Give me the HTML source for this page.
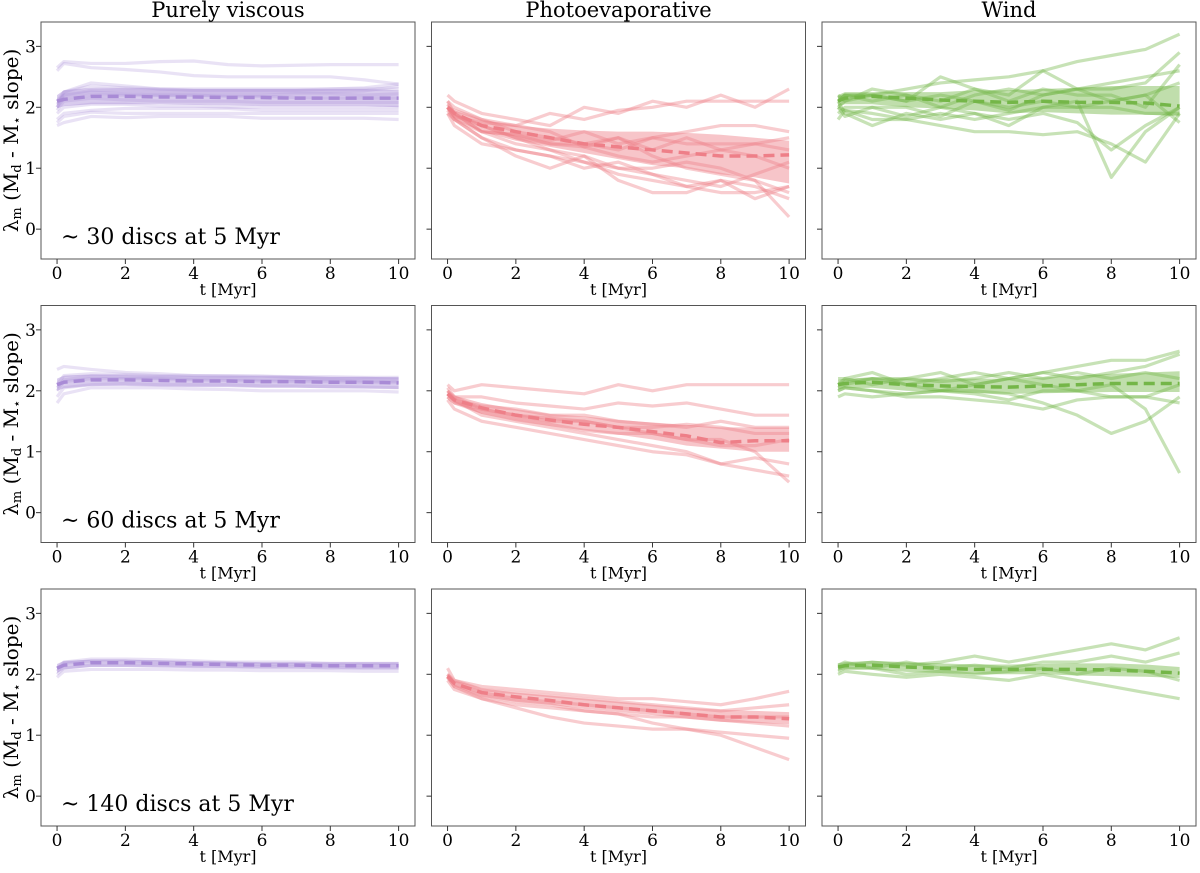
<!DOCTYPE html>
<html><head><meta charset="utf-8"><style>
body{margin:0;background:#fff}
svg text{font-family:"DejaVu Serif","Liberation Serif",serif;fill:#000}
</style></head><body>
<svg id="fig" width="1200" height="868" xmlns="http://www.w3.org/2000/svg"></svg>
<script>
const times=[0,0.2,1,2,3,4,5,6,7,8,9,10];
const xTicks=[0,2,4,6,8,10];
const yTicks=[0,1,2,3];
const colTitles=["Purely viscous","Photoevaporative","Wind"];
const rowNotes=["~ 30 discs at 5 Myr","~ 60 discs at 5 Myr","~ 140 discs at 5 Myr"];
const colors=["#a98bd6","#ee7f88","#74b648"];
// viscous
const v1=[[2.65,2.75,2.72,2.72,2.75,2.76,2.7,2.68,2.69,2.7,2.7,2.7],[2.6,2.72,2.65,2.62,2.58,2.52,2.5,2.5,2.5,2.5,2.45,2.38],
[2.0,2.25,2.35,2.32,2.3,2.3,2.3,2.3,2.3,2.3,2.3,2.3],[2.1,2.2,2.28,2.27,2.25,2.25,2.25,2.25,2.25,2.25,2.27,2.34],
[2.0,2.15,2.2,2.2,2.2,2.2,2.18,2.18,2.16,2.15,2.15,2.15],[1.95,2.1,2.15,2.12,2.1,2.1,2.1,2.08,2.08,2.08,2.08,2.08],
[1.9,2.0,2.05,2.05,2.02,2.02,2.0,2.0,2.0,2.0,2.0,2.0],[1.8,1.9,1.95,1.98,1.98,1.98,1.98,1.95,1.95,1.95,1.95,1.95],
[1.75,1.85,1.92,1.9,1.9,1.9,1.9,1.9,1.9,1.9,1.9,1.9],[1.7,1.75,1.85,1.83,1.85,1.85,1.85,1.82,1.82,1.82,1.82,1.8],
[2.05,2.2,2.25,2.22,2.2,2.2,2.2,2.2,2.22,2.22,2.2,2.22],[2.1,2.25,2.4,2.35,2.3,2.28,2.28,2.28,2.28,2.3,2.32,2.38]];
const v1m=[2.1,2.13,2.18,2.18,2.17,2.17,2.16,2.16,2.15,2.15,2.15,2.15],v1lo=[1.98,2.02,2.05,2.05,2.05,2.04,2.03,2.02,2.02,2.02,2.02,2.0],v1hi=[2.2,2.28,2.32,2.32,2.31,2.3,2.3,2.3,2.3,2.3,2.3,2.28];
const v2=[[2.35,2.4,2.35,2.3,2.28,2.25,2.25,2.24,2.22,2.2,2.2,2.2],[2.1,2.25,2.28,2.27,2.25,2.25,2.24,2.24,2.23,2.23,2.22,2.22],
[2.0,2.15,2.2,2.2,2.2,2.18,2.17,2.16,2.15,2.15,2.14,2.14],[1.9,2.05,2.1,2.12,2.1,2.1,2.1,2.08,2.08,2.07,2.06,2.05],
[1.8,1.95,2.05,2.05,2.05,2.03,2.02,2.0,2.0,2.0,2.0,1.98],[2.05,2.18,2.24,2.22,2.21,2.2,2.2,2.18,2.18,2.18,2.16,2.16]];
const v2m=[2.1,2.14,2.18,2.18,2.17,2.16,2.16,2.15,2.15,2.14,2.14,2.13],v2lo=[2.0,2.04,2.08,2.08,2.07,2.06,2.06,2.05,2.05,2.04,2.04,2.03],v2hi=[2.2,2.25,2.27,2.27,2.26,2.25,2.25,2.24,2.24,2.23,2.23,2.22];
const v3=[[2.1,2.2,2.25,2.25,2.24,2.22,2.2,2.2,2.2,2.18,2.18,2.18],[2.0,2.1,2.15,2.15,2.15,2.14,2.13,2.12,2.12,2.12,2.1,2.1],
[1.95,2.05,2.08,2.08,2.08,2.07,2.07,2.06,2.06,2.06,2.05,2.05],[2.05,2.18,2.22,2.22,2.2,2.18,2.18,2.16,2.16,2.15,2.15,2.15]];
const v3m=[2.1,2.15,2.19,2.19,2.18,2.17,2.16,2.15,2.15,2.14,2.14,2.14],v3lo=[2.02,2.08,2.12,2.12,2.11,2.1,2.1,2.09,2.09,2.08,2.08,2.08],v3hi=[2.17,2.22,2.24,2.24,2.23,2.22,2.21,2.2,2.2,2.2,2.2,2.2];
// photoevaporative
const p1=[[2.2,2.1,1.9,1.8,1.7,2.0,1.9,2.1,2.0,2.2,2.0,2.3],[2.0,1.95,1.8,1.7,1.9,1.8,1.95,2.0,2.1,2.1,2.1,2.1],
[2.1,2.0,1.8,1.6,1.5,1.4,1.3,1.5,1.6,1.7,1.7,1.6],[2.0,1.9,1.7,1.5,1.3,1.2,1.0,0.9,0.7,0.8,0.7,0.5],
[1.9,1.8,1.6,1.4,1.3,1.1,1.0,1.0,1.1,1.0,0.8,0.2],[2.0,1.8,1.5,1.3,1.2,1.1,0.9,0.8,0.7,0.6,0.6,0.7],
[2.1,1.9,1.6,1.55,1.4,1.4,1.5,1.3,1.5,1.3,1.4,1.3],[1.95,1.8,1.5,1.2,1.0,1.2,0.8,0.6,0.6,0.8,0.5,0.7],
[2.0,1.85,1.75,1.7,1.6,1.35,1.5,1.2,1.0,0.9,0.8,0.6],[2.05,1.9,1.6,1.55,1.45,1.6,1.4,1.5,1.4,1.4,1.4,1.5],
[1.9,1.7,1.4,1.3,1.2,1.0,1.1,0.9,0.8,0.7,0.9,1.1],[2.0,1.85,1.7,1.5,1.4,1.35,1.2,1.1,1.2,1.3,1.2,1.0]];
const p1m=[2.0,1.9,1.7,1.6,1.5,1.4,1.35,1.3,1.25,1.2,1.2,1.22],p1lo=[1.95,1.8,1.6,1.45,1.35,1.25,1.15,1.05,1.0,0.9,0.85,0.75],p1hi=[2.05,1.95,1.8,1.7,1.65,1.62,1.6,1.6,1.58,1.55,1.5,1.45];
const p2=[[2.1,2.0,2.1,2.05,2.0,1.95,2.1,2.0,2.1,2.1,2.1,2.1],[2.0,1.9,1.9,1.8,1.75,1.7,1.8,1.75,1.8,1.7,1.6,1.6],
[1.9,1.8,1.7,1.6,1.5,1.5,1.4,1.4,1.45,1.4,1.3,1.3],[2.0,1.85,1.6,1.5,1.4,1.3,1.2,1.1,1.0,0.8,0.9,0.8],
[1.85,1.7,1.5,1.4,1.3,1.2,1.1,1.0,0.95,0.8,0.7,0.6],[2.05,1.9,1.7,1.6,1.55,1.5,1.4,1.3,1.2,1.1,1.1,1.2],
[1.9,1.8,1.65,1.55,1.45,1.35,1.3,1.3,1.2,1.2,1.0,0.5],[1.95,1.85,1.75,1.7,1.6,1.6,1.5,1.45,1.4,1.5,1.4,1.4]];
const p2m=[1.95,1.85,1.72,1.6,1.52,1.45,1.4,1.33,1.26,1.15,1.18,1.18],p2lo=[1.9,1.8,1.62,1.5,1.42,1.35,1.28,1.2,1.1,1.05,1.0,1.0],p2hi=[2.0,1.92,1.8,1.7,1.62,1.58,1.52,1.48,1.44,1.4,1.4,1.4];
const p3=[[2.1,1.9,1.8,1.75,1.7,1.65,1.6,1.6,1.55,1.5,1.6,1.72],[2.0,1.85,1.7,1.6,1.55,1.5,1.45,1.4,1.35,1.3,1.3,1.3],
[1.9,1.75,1.6,1.5,1.45,1.4,1.35,1.2,1.1,1.0,0.8,0.6],[1.95,1.8,1.6,1.45,1.3,1.2,1.15,1.1,1.1,1.05,1.0,0.95],
[2.0,1.9,1.75,1.7,1.65,1.6,1.55,1.5,1.45,1.4,1.45,1.5],[1.95,1.8,1.65,1.55,1.5,1.4,1.35,1.3,1.3,1.25,1.2,1.15]];
const p3m=[1.97,1.85,1.7,1.63,1.57,1.5,1.45,1.4,1.35,1.3,1.3,1.27],p3lo=[1.93,1.8,1.63,1.55,1.5,1.43,1.38,1.33,1.27,1.22,1.2,1.18],p3hi=[2.02,1.9,1.77,1.7,1.65,1.6,1.55,1.5,1.45,1.42,1.4,1.38];
// wind
const w1=[[2.1,2.2,2.2,2.3,2.4,2.45,2.5,2.6,2.75,2.85,2.95,3.2],[2.0,2.1,2.2,2.1,2.5,2.3,2.2,2.6,2.3,2.3,2.4,2.9],
[2.1,1.9,1.7,1.9,1.8,1.9,1.8,1.9,1.75,1.3,1.7,2.0],[2.0,1.95,1.9,1.8,1.7,1.6,1.6,1.55,1.6,1.4,1.1,1.9],
[2.2,2.1,2.3,2.2,2.1,2.3,2.1,2.3,2.2,2.2,2.0,2.7],[1.9,2.0,2.0,1.85,2.0,1.9,1.7,2.0,2.1,0.85,1.6,2.0],
[2.1,2.2,2.1,2.2,2.0,2.2,2.3,2.2,2.3,2.4,2.5,2.6],[2.0,1.85,2.0,2.0,1.85,2.1,2.0,2.1,2.0,2.1,2.2,1.75],
[2.15,2.2,2.2,2.1,2.2,2.1,1.95,2.2,2.3,2.1,2.2,2.4],[1.8,1.95,1.8,1.8,1.9,1.8,1.9,2.0,2.0,2.0,1.9,1.9]];
const w1m=[2.1,2.15,2.18,2.15,2.12,2.1,2.08,2.1,2.08,2.08,2.07,2.02],w1lo=[2.02,2.05,2.05,2.0,1.98,1.95,1.9,1.92,1.9,1.88,1.88,1.85],w1hi=[2.2,2.25,2.25,2.25,2.25,2.28,2.28,2.3,2.32,2.35,2.35,2.35];
const w2=[[2.1,2.15,2.2,2.1,2.2,2.3,2.2,2.3,2.4,2.5,2.5,2.65],[2.0,2.05,2.0,1.95,2.0,2.1,2.2,2.1,2.0,2.1,1.7,0.65],
[2.1,2.2,2.3,2.1,2.0,2.0,1.95,1.8,1.6,1.3,1.5,1.9],[2.05,2.1,2.2,2.2,2.3,2.1,2.2,2.3,2.2,2.3,2.4,2.6],
[1.9,1.95,1.9,1.95,2.0,1.95,1.85,2.0,2.0,1.9,1.9,1.8],[2.2,2.2,2.1,2.2,2.15,2.2,2.3,2.2,2.3,2.2,2.3,2.2],
[2.0,2.05,2.0,1.9,1.9,1.85,1.8,1.7,1.85,1.9,1.9,2.1]];
const w2m=[2.1,2.12,2.14,2.1,2.08,2.07,2.06,2.08,2.1,2.12,2.12,2.12],w2lo=[2.02,2.04,2.05,2.0,1.98,1.96,1.95,1.96,1.97,1.98,1.98,1.98],w2hi=[2.18,2.2,2.22,2.2,2.2,2.2,2.2,2.22,2.25,2.28,2.3,2.32];
const w3=[[2.1,2.15,2.2,2.15,2.2,2.3,2.2,2.3,2.4,2.5,2.4,2.6],[2.0,2.05,2.0,1.95,2.0,1.95,1.9,2.0,1.9,1.8,1.7,1.6],
[2.15,2.2,2.1,2.2,2.1,2.15,2.1,2.2,2.2,2.3,2.2,2.35],[2.05,2.1,2.1,2.0,2.05,2.0,2.05,2.1,2.0,2.1,2.05,1.9]];
const w3m=[2.12,2.14,2.15,2.12,2.1,2.08,2.08,2.08,2.08,2.07,2.05,2.02],w3lo=[2.06,2.08,2.08,2.04,2.02,2.0,2.0,2.0,1.98,1.97,1.96,1.94],w3hi=[2.18,2.2,2.22,2.2,2.18,2.16,2.16,2.17,2.18,2.18,2.16,2.12];

const panels=[[[v1,v1m,v1lo,v1hi],[p1,p1m,p1lo,p1hi],[w1,w1m,w1lo,w1hi]],
[[v2,v2m,v2lo,v2hi],[p2,p2m,p2lo,p2hi],[w2,w2m,w2lo,w2hi]],
[[v3,v3m,v3lo,v3hi],[p3,p3m,p3lo,p3hi],[w3,w3m,w3lo,w3hi]]];

const svg=document.getElementById('fig');const NS="http://www.w3.org/2000/svg";
function mk(tag,attrs,parent){const e=document.createElementNS(NS,tag);for(const k in attrs)e.setAttribute(k,attrs[k]);(parent||svg).appendChild(e);return e;}
const PW=374,PH=237,X0=[41,431.5,822],Y0=[22,305.5,589];
const xmin=-0.47,xmax=10.48,ymin=-0.49,ymax=3.4;
for(let r=0;r<3;r++)for(let c=0;c<3;c++){
  const L=X0[c],T=Y0[r];
  const sx=v=>L+(v-xmin)/(xmax-xmin)*PW, sy=v=>T+PH-(v-ymin)/(ymax-ymin)*PH;
  const g=mk('g',{});
  
  
  const [lines,med,lo,hi]=panels[r][c];const col=colors[c];
  const clip=mk('clipPath',{id:'cl'+r+c},g);mk('rect',{x:L,y:T,width:PW,height:PH},clip);
  const pg=mk('g',{'clip-path':'url(#cl'+r+c+')'},g);
  lines.forEach((ln,i)=>{const p=mk('polyline',{points:ln.map((v,j)=>sx(times[j])+','+sy(v)).join(' '),fill:'none',stroke:col,'stroke-width':3.2,'stroke-opacity':c==0?0.25:0.4,'stroke-linejoin':'round'},pg);
    
    });
  const bp=hi.map((v,j)=>sx(times[j])+','+sy(v)).concat(lo.map((v,j)=>[j,v]).reverse().map(([j,v])=>sx(times[j])+','+sy(v))).join(' ');
  const band=mk('polygon',{points:bp,fill:col,'fill-opacity':0.45},pg);
  
  
  const m=mk('polyline',{points:med.map((v,j)=>sx(times[j])+','+sy(v)).join(' '),fill:'none',stroke:col,'stroke-width':3.5,'stroke-dasharray':'11,6'},pg);
  
  
  const fr=mk('rect',{x:L,y:T,width:PW,height:PH,fill:'none',stroke:'#555','stroke-width':1},g);
  
  
  xTicks.forEach(v=>{mk('line',{x1:sx(v),x2:sx(v),y1:T+PH,y2:T+PH+5,stroke:'#333'},g);
    const t=mk('text',{x:sx(v),y:T+PH+20,'text-anchor':'middle','font-size':17},g);t.textContent=v;
    
    });
  yTicks.forEach(v=>{mk('line',{x1:L-5,x2:L,y1:sy(v),y2:sy(v),stroke:'#333'},g);
    if(c==0){const t=mk('text',{x:L-5,y:sy(v)+6,'text-anchor':'end','font-size':17},g);t.textContent=v;
    
    }});
  const xl=mk('text',{x:L+PW/2,y:T+PH+36,'text-anchor':'middle','font-size':16},g);xl.textContent='t [Myr]';
  
  
  if(c==0){const yl=mk('text',{x:0,y:0,'text-anchor':'middle','font-size':20,transform:'translate(18,'+(T+PH/2)+') rotate(-90)'},g);
    yl.innerHTML='λ<tspan font-size="13" dy="3">m</tspan><tspan dy="-3"> (M</tspan><tspan font-size="13" dy="3">d</tspan><tspan dy="-3"> - M</tspan><tspan font-size="13" dy="3">⋆</tspan><tspan dy="-3"> slope)</tspan>';
    
    
    const n=mk('text',{x:L+20,y:T+PH-15,'font-size':22},g);n.textContent=rowNotes[r];
    
    }
  if(r==0){const tt=mk('text',{x:L+PW/2,y:17,'text-anchor':'middle','font-size':21},g);tt.textContent=colTitles[c];
    
    }
}
</script>
</body></html>
